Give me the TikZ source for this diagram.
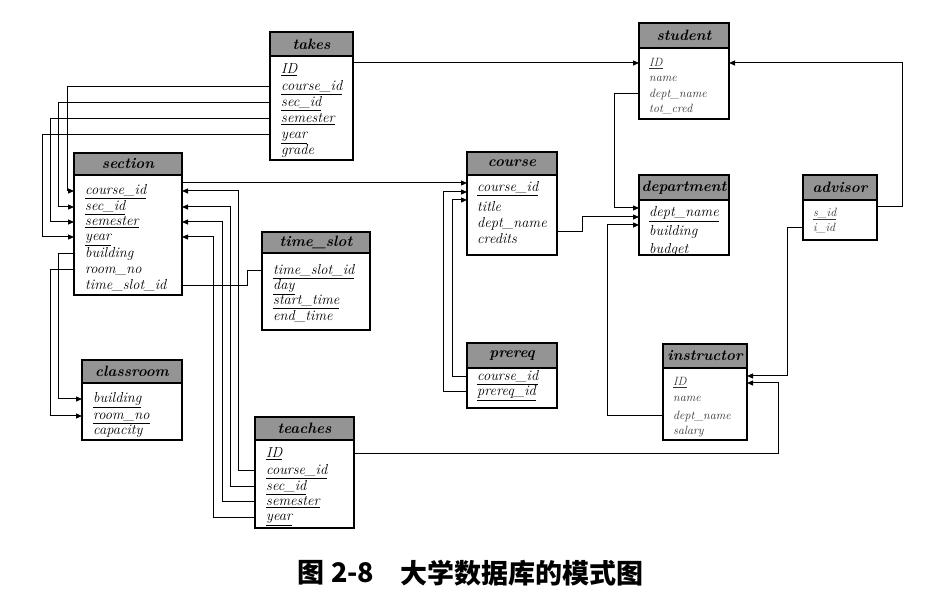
\documentclass[tikz,border=0pt]{standalone}
\usepackage{fontspec}
\newfontfamily\cjk{Noto Sans CJK SC}
\usetikzlibrary{arrows.meta}
\tikzset{
  hdr/.style={draw, line width=1.2pt, fill=black!42, anchor=north west, inner sep=0pt, outer sep=0pt,
    font=\fontsize{15}{15}\selectfont\bfseries\itshape},
  bdy/.style={draw, line width=1.2pt, fill=white, anchor=north west, inner sep=0pt, outer sep=0pt},
  rw/.style={anchor=west, inner sep=0pt, text height=9pt, text depth=2pt, font=\fontsize{14.5}{14.5}\selectfont\itshape},
  rws/.style={rw, font=\fontsize{12}{12}\selectfont\itshape, text=black!80},
  link/.style={line width=1pt},
  fk/.style={link, -{Triangle[length=6pt,width=5pt]}},
  captxt/.style={anchor=west, inner sep=0pt, font=\cjk\bfseries\fontsize{27}{27}\selectfont},
}
\newcommand\tbl[7]{%
  \pgfmathsetmacro\tw{#4-#2}%
  \pgfmathsetmacro\hh{#5-#3}%
  \pgfmathsetmacro\bh{#6-#5}%
  \node[bdy, minimum width=\tw pt, minimum height=\bh pt] (#1) at (#2,#5) {};
  \node[hdr, minimum width=\tw pt, minimum height=\hh pt] (#1-h) at (#2,#3) {#7};
}
\newcommand\fld[5]{\node[#1] (#2) at (#3,#4) {#5};}
\newcommand\uu[1]{\underline{#1}}
\begin{document}
\begin{tikzpicture}[x=1pt,y=-1pt]
\path[use as bounding box, fill=white] (0,0) rectangle (951,593);

% ---------- tables ----------
\tbl{takes}{270}{32}{353}{56}{160}{takes}
\fld{rw}{tk-id}{281}{70}{\uu{ID}}
\fld{rw}{tk-cid}{281}{87}{\uu{course\_id}}
\fld{rw}{tk-sid}{281}{103}{\uu{sec\_id}}
\fld{rw}{tk-sem}{281}{119}{\uu{semester}}
\fld{rw}{tk-yr}{281}{135}{\uu{year}}
\fld{rw}{tk-gr}{281}{151}{grade}

\tbl{sec}{74}{153}{182}{175}{295}{section}
\fld{rw}{sc-cid}{85}{191}{\uu{course\_id}}
\fld{rw}{sc-sid}{85}{207}{\uu{sec\_id}}
\fld{rw}{sc-sem}{85}{222}{\uu{semester}}
\fld{rw}{sc-yr}{85}{237}{\uu{year}}
\fld{rw}{sc-bld}{85}{254}{building}
\fld{rw}{sc-rm}{85}{270}{room\_no}
\fld{rw}{sc-ts}{85}{286}{time\_slot\_id}

\tbl{cls}{82}{360}{182}{383}{440}{classroom}
\fld{rw}{cl-bld}{93}{399}{\uu{building}}
\fld{rw}{cl-rm}{93}{416}{\uu{room\_no}}
\fld{rw}{cl-cap}{93}{431}{capacity}

\tbl{teaches}{255}{417}{354}{440}{528}{teaches}
\fld{rw}{te-id}{266}{454}{\uu{ID}}
\fld{rw}{te-cid}{266}{471}{\uu{course\_id}}
\fld{rw}{te-sid}{266}{487}{\uu{sec\_id}}
\fld{rw}{te-sem}{266}{502}{\uu{semester}}
\fld{rw}{te-yr}{266}{517}{\uu{year}}

\tbl{tslot}{262}{232}{370}{253}{330}{time\_slot}
\fld{rw}{ts-id}{273}{271}{\uu{time\_slot\_id}}
\fld{rw}{ts-day}{273}{286}{\uu{day}}
\fld{rw}{ts-st}{273}{301}{\uu{start\_time}}
\fld{rw}{ts-et}{273}{317}{end\_time}

\tbl{crs}{467}{152}{557}{175}{255}{course}
\fld{rw}{cr-cid}{477}{188}{\uu{course\_id}}
\fld{rw}{cr-ti}{477}{208}{title}
\fld{rw}{cr-dn}{477}{224}{dept\_name}
\fld{rw}{cr-cr}{477}{240}{credits}

\tbl{prereq}{467}{343}{557}{368}{408}{prereq}
\fld{rw}{pq-cid}{477}{377}{\uu{course\_id}}
\fld{rw}{pq-pid}{477}{392}{\uu{prereq\_id}}

\tbl{student}{639}{23}{729}{48}{119}{student}
\fld{rws}{st-id}{649}{63}{\uu{ID}}
\fld{rws}{st-nm}{649}{78}{name}
\fld{rws}{st-dn}{649}{94}{dept\_name}
\fld{rws}{st-tc}{649}{109}{tot\_cred}

\tbl{dept}{639}{175}{729}{200}{255}{department}
\fld{rw}{dp-dn}{649}{213}{\uu{dept\_name}}
\fld{rw}{dp-bl}{649}{232}{building}
\fld{rw}{dp-bu}{649}{250}{budget}

\tbl{adv}{803}{175}{877}{200}{240}{advisor}
\fld{rws}{ad-sid}{813}{213}{\uu{s\_id}}
\fld{rws}{ad-iid}{813}{228}{i\_id}

\tbl{instr}{663}{344}{747}{368}{440}{instructor}
\fld{rws}{in-id}{673}{382}{\uu{ID}}
\fld{rws}{in-nm}{673}{398}{name}
\fld{rws}{in-dn}{673}{416}{dept\_name}
\fld{rws}{in-sa}{673}{431}{salary}

% ---------- routing columns ----------
\coordinate (vA) at (67,0);
\coordinate (vB) at (58,0);
\coordinate (vC) at (50,0);
\coordinate (vD) at (42,0);
\coordinate (vT1) at (238,0);
\coordinate (vT2) at (230,0);
\coordinate (vT3) at (222,0);
\coordinate (vT4) at (213,0);
\coordinate (vTS) at (247,0);
\coordinate (vP1) at (452,0);
\coordinate (vP2) at (443,0);
\coordinate (vCD) at (582,0);
\coordinate (vSD) at (614,0);
\coordinate (vID) at (607,0);
\coordinate (vAS) at (902,0);
\coordinate (vAI) at (787,0);
\coordinate (vTI) at (778,0);

% ---------- connectors ----------
\draw[fk] (st-id -| takes.east) -- (st-id -| student.west);

\draw[fk] (tk-cid -| takes.west) -| (vA |- sc-cid) -- (sc-cid -| sec.west);
\draw[fk] (tk-sid -| takes.west) -| (vB |- sc-sid) -- (sc-sid -| sec.west);
\draw[fk] (tk-sem -| takes.west) -| (vC |- sc-sem) -- (sc-sem -| sec.west);
\draw[fk] (tk-yr -| takes.west) -| (vD |- sc-yr) -- (sc-yr -| sec.west);

\draw[fk] (sc-bld -| sec.west) -| (vB |- cl-bld) -- (cl-bld -| cls.west);
\draw[fk] (sc-rm -| sec.west) -| (vC |- cl-rm) -- (cl-rm -| cls.west);

\draw[fk] (sec.east |- 0,183) -- (crs.west |- 0,183);

\draw[fk] (te-cid -| teaches.west) -| (vT1 |- sc-cid) -- (sc-cid -| sec.east);
\draw[fk] (te-sid -| teaches.west) -| (vT2 |- sc-sid) -- (sc-sid -| sec.east);
\draw[fk] (te-sem -| teaches.west) -| (vT3 |- sc-sem) -- (sc-sem -| sec.east);
\draw[fk] (te-yr -| teaches.west) -| (vT4 |- sc-yr) -- (sc-yr -| sec.east);

\draw[link] (sc-ts -| sec.east) -| (vTS |- ts-id) -- (ts-id -| tslot.west);

\draw[fk] (pq-cid -| prereq.west) -| (vP1 |- 0,200) -- (crs.west |- 0,200);
\draw[fk] (pq-pid -| prereq.west) -| (vP2 |- 0,192) -- (crs.west |- 0,192);

\draw[fk] (crs.east |- 0,232) -| (vCD |- 0,217) -- (dept.west |- 0,217);
\draw[fk] (st-dn -| student.west) -| (vSD |- 0,208) -- (dept.west |- 0,208);
\draw[fk] (in-dn -| instr.west) -| (vID |- 0,225) -- (dept.west |- 0,225);

\draw[fk] (adv.east |- 0,207) -| (vAS |- st-id) -- (st-id -| student.east);
\draw[fk] (ad-iid -| adv.west) -| (vAI |- 0,376) -- (instr.east |- 0,376);
\draw[fk] (te-id -| teaches.east) -| (vTI |- 0,383) -- (instr.east |- 0,383);

% ---------- caption ----------
\node[captxt] (cap1) at (297,573) {图\hspace{7pt}2-8};
\node[captxt] (cap2) at (400,573) {大学数据库的模式图};
\end{tikzpicture}
\end{document}
